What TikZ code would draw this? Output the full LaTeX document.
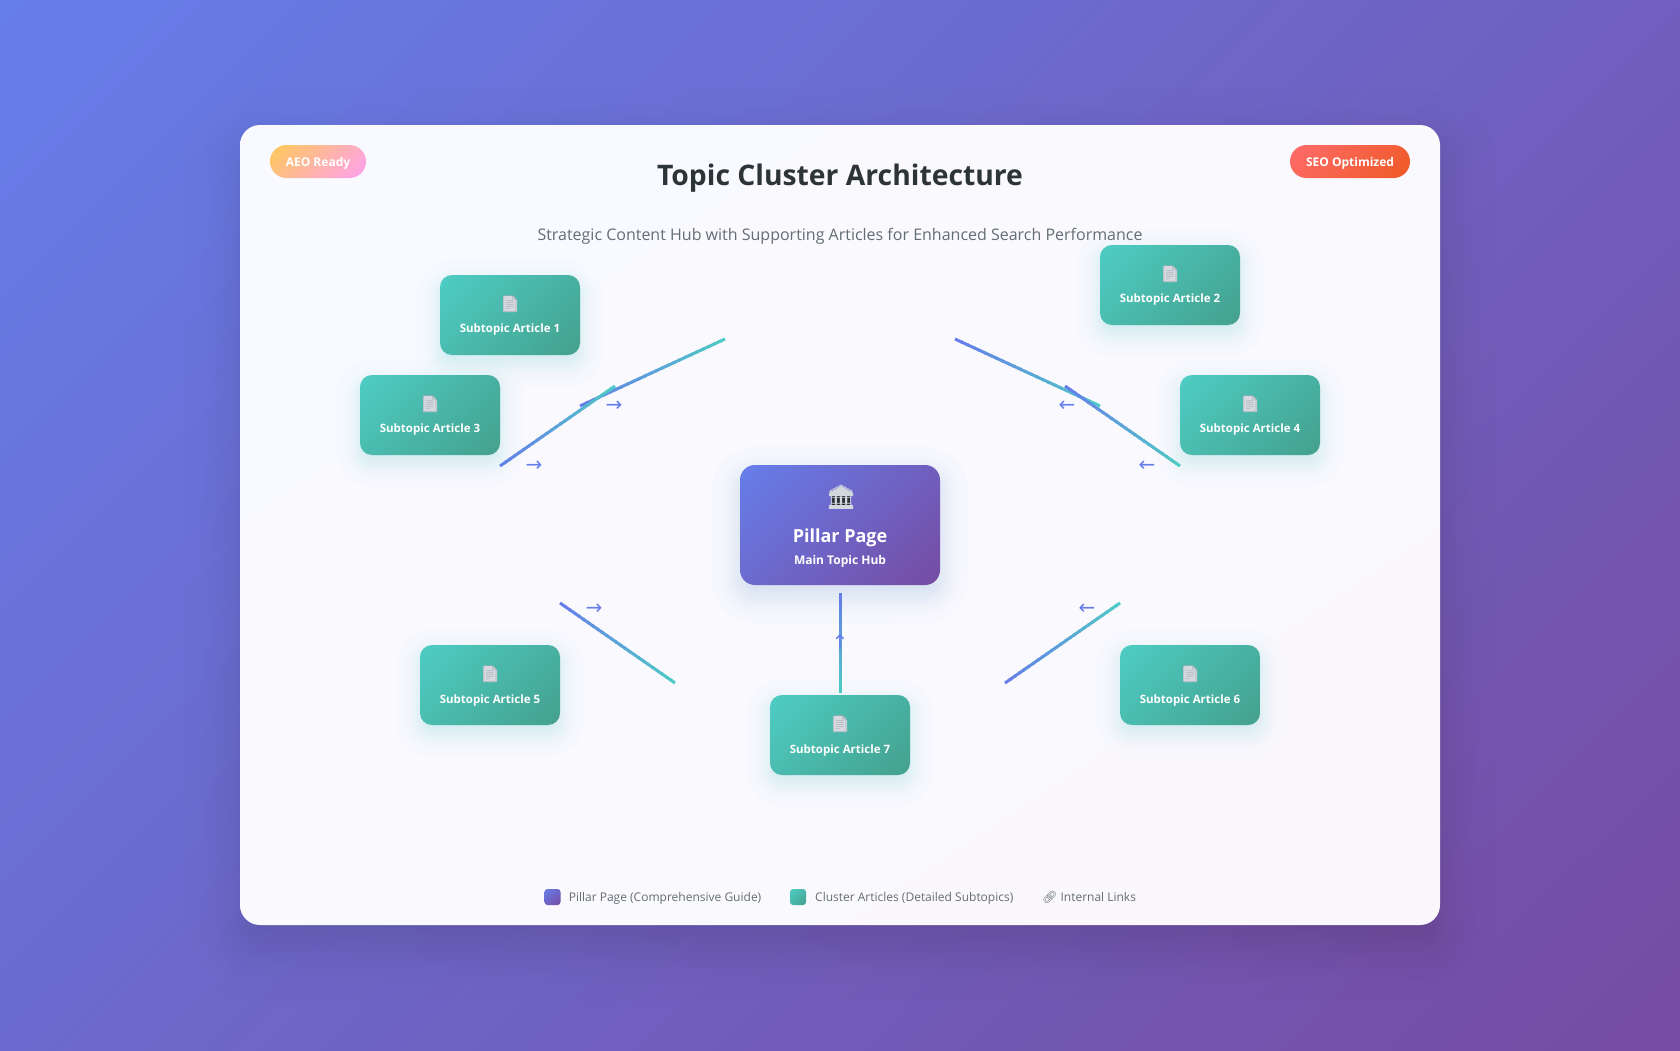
\documentclass[tikz,border=0pt]{standalone}
\usepackage{fontspec}
\setmainfont{Open Sans}
\newfontfamily\emojifont{Noto Emoji}
\newfontfamily\arrowfont{DejaVu Sans}
\usetikzlibrary{calc,shadings}

\definecolor{pillarblue}{HTML}{667EEA}
\definecolor{pillarpurple}{HTML}{764BA2}
\definecolor{clusterteal}{HTML}{4ECDC4}
\definecolor{clustergreen}{HTML}{44A08D}
\definecolor{titlegray}{HTML}{2D3436}
\definecolor{subgray}{HTML}{636E72}
\definecolor{iconpage}{HTML}{D6DAE0}
\definecolor{iconline}{HTML}{A4ADB5}
\definecolor{templelight}{HTML}{D3D8DE}
\definecolor{templedark}{HTML}{2B3036}
\definecolor{aeoyellow}{HTML}{FECA57}
\definecolor{aeopink}{HTML}{FF9FF3}
\definecolor{seored}{HTML}{FF6B6B}
\definecolor{seoorange}{HTML}{EE5A24}

\tikzset{
  x=1pt, y=-1pt,
  backdrop/.style={shade, upper left=pillarblue, lower right=pillarpurple,
    upper right=pillarpurple!61.5!pillarblue, lower left=pillarpurple!38.5!pillarblue},
  cardbox/.style={rounded corners=20pt, shade, upper left={rgb,255:red,248;green,250;blue,255},
    lower right={rgb,255:red,251;green,248;blue,253}, upper right={rgb,255:red,249;green,249;blue,254},
    lower left={rgb,255:red,249;green,249;blue,254},
    minimum width=1200pt, minimum height=800pt, inner sep=0pt},
  pillarbox/.style={rounded corners=15pt, shade, upper left=pillarblue, lower right=pillarpurple,
    upper right=pillarpurple!62!pillarblue, lower left=pillarpurple!38!pillarblue,
    minimum width=200pt, minimum height=120pt, inner sep=0pt},
  clusterbox/.style={rounded corners=12pt, shade, upper left=clusterteal, lower right=clustergreen,
    upper right=clustergreen!64!clusterteal, lower left=clustergreen!36!clusterteal,
    minimum width=140pt, minimum height=80pt, inner sep=0pt},
  clusterlabel/.style={inner sep=0pt, text=white, font=\fontsize{11.5}{14}\selectfont\bfseries},
  badge/.style={rounded corners=16.5pt, minimum height=33pt, inner sep=0pt, text=white, shade,
    text height=10pt, text depth=0pt, font=\fontsize{12}{15}\selectfont\bfseries},
  flowarrow/.style={text=pillarblue, inner sep=0pt, font=\arrowfont\fontsize{20}{20}\selectfont},
  legendkey/.style={rounded corners=3pt, minimum size=16pt, inner sep=0pt, shade},
  legendtext/.style={text=subgray, inner sep=0pt, anchor=west, font=\fontsize{12}{15}\selectfont},
}

% soft shadow: centre x, y, half width, half height, sigma, colour, opacity of one layer, radius
\newcommand{\softshadow}[8]{
  \foreach \g in {-1.87,-1.24,-0.97,-0.76,-0.57,-0.40,-0.24,-0.08,0.08,0.24,0.40,0.57,0.76,0.97,1.24,1.87}{
    \pgfmathsetmacro{\rr}{max(#8+\g*#5,1)}
    \fill[#6, opacity=#7, rounded corners=\rr pt]
      (#1-#3-\g*#5,#2-#4-\g*#5) rectangle (#1+#3+\g*#5,#2+#4+\g*#5);
  }
}
% link line running from its blue end to its teal end
\newcommand{\linkline}[2]{
  \foreach \i [evaluate=\i as \p using 100-\i*4, evaluate=\i as \j using \i+1.4] in {0,...,24}
    \draw[line width=3pt, pillarblue!\p!clusterteal]
      ($(#1)!\i/25!(#2)$) -- ($(#1)!{min(\j,25)/25}!(#2)$);
}

\begin{document}
\begin{tikzpicture}
  \useasboundingbox (0,0) rectangle (1680,1050);

  % Background and card
  \path[backdrop] (0,0) rectangle (1680,1050);
  \softshadow{840}{545}{600}{400}{30}{black}{0.009}{20}
  \node[cardbox] (card) at (840,525) {};

  % Heading
  \node[text=titlegray, font=\fontsize{28.3}{34}\selectfont\bfseries] (title) at (840,178) {Topic Cluster Architecture};
  \node[text=subgray, font=\fontsize{16}{20}\selectfont] (subtitle) at (840,236) {Strategic Content Hub with Supporting Articles for Enhanced Search Performance};
  \node[badge, minimum width=96pt, upper left=aeoyellow, lower right=aeopink, upper right=aeopink!74!aeoyellow, lower left=aeopink!26!aeoyellow] (aeo) at (318,161.5) {AEO Ready};
  \node[badge, minimum width=120pt, upper left=seored, lower right=seoorange, upper right=seoorange!78!seored, lower left=seoorange!22!seored] (seo) at (1350,161.5) {SEO Optimized};

  % Link lines
  \coordinate (blue1) at (580,406);   \coordinate (teal1) at (725,339);
  \coordinate (blue2) at (955,339);   \coordinate (teal2) at (1100,406);
  \coordinate (blue3) at (500,466);   \coordinate (teal3) at (615,386);
  \coordinate (blue4) at (1065,386);  \coordinate (teal4) at (1180,466);
  \coordinate (blue5) at (560,603);   \coordinate (teal5) at (675,683);
  \coordinate (blue6) at (1005,683);  \coordinate (teal6) at (1120,603);
  \coordinate (blue7) at (840,593);   \coordinate (teal7) at (840,693);
  \foreach \n in {1,...,7}{
    \linkline{blue\n}{teal\n}
  }

  % Direction marks
  \foreach \n/\x/\y/\a in {1/614/406/→, 2/1067/406/←, 3/534/466/→, 4/1147/466/←, 5/594/609/→, 6/1087/609/←, 7/840/642/↑}
    \node[flowarrow] (mark\n) at (\x,\y) {\a};

  % Pillar page
  \softshadow{840}{535}{100}{60}{15}{pillarblue}{0.014}{15}
  \node[pillarbox] (pillar) at (840,525) {};
  \node[inner sep=0pt, text=white, font=\fontsize{18}{22}\selectfont\bfseries] (pillarname) at (840,538) {Pillar Page};
  \node[inner sep=0pt, text=white, font=\fontsize{12}{14}\selectfont\bfseries] (pillarsub) at (840,561.5) {Main Topic Hub};
  \fill[templelight] (841,486) -- (853,493) -- (853,496) -- (829,496) -- (829,493) -- cycle;
  \fill[templedark] (832,496) rectangle (850,505);
  \fill[templelight] (829,505) rectangle (853,509);
  \node[text=templelight, inner sep=0pt, font=\emojifont\fontsize{24}{30}\selectfont] (temple) at (841,497.5) {🏛};

  % Cluster articles
  \foreach \n/\x/\y in {1/510/315, 2/1170/285, 3/430/415, 4/1250/415, 5/490/685, 6/1190/685, 7/840/735}{
    \softshadow{\x}{\y+8}{70}{40}{12.5}{clusterteal}{0.015}{12}
    \node[clusterbox] (article\n) at (\x,\y) {};
    \fill[iconpage, rounded corners=1pt] (\x-7,\y-19) -- (\x+3,\y-19) -- (\x+7,\y-15) -- (\x+7,\y-3) -- (\x-7,\y-3) -- cycle;
    \node[text=iconline, inner sep=0pt, font=\emojifont\fontsize{16}{16}\selectfont] (icon\n) at (\x,\y-11) {📄};
    \node[clusterlabel] (label\n) at (\x,\y+15) {Subtopic Article \n};
  }

  % Legend
  \node[legendkey, upper left=pillarblue, lower right=pillarpurple, upper right=pillarpurple!50!pillarblue, lower left=pillarpurple!50!pillarblue] (keypillar) at (552.5,897) {};
  \node[legendtext] (textpillar) at (568.6,898) {Pillar Page (Comprehensive Guide)};
  \node[legendkey, upper left=clusterteal, lower right=clustergreen, upper right=clustergreen!50!clusterteal, lower left=clustergreen!50!clusterteal] (keycluster) at (798,897) {};
  \node[legendtext] (textcluster) at (815,898) {Cluster Articles (Detailed Subtopics)};
  \node[legendtext] (textlinks) at (1042,897.5) {{\emojifont 🔗} Internal Links};
\end{tikzpicture}
\end{document}
